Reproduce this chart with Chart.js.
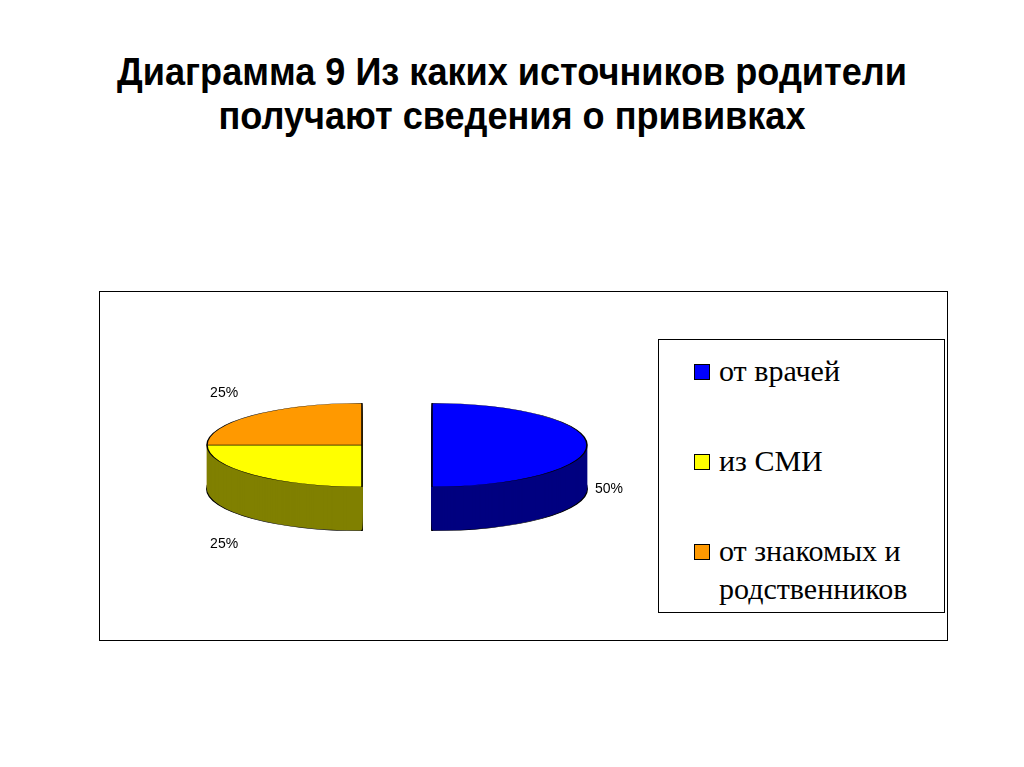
<!DOCTYPE html>
<html><head><meta charset="utf-8">
<script src="https://cdn.jsdelivr.net/npm/chart.js@4/dist/chart.umd.min.js"></script>
<style>
body{margin:0;width:1024px;height:767px;background:#fff;position:relative;overflow:hidden;font-family:"Liberation Sans",Arial,sans-serif}
#title{position:absolute;left:0;width:1024px;top:50px;text-align:center;font-weight:bold;font-size:38px;line-height:44px;color:#000;transform:scaleX(0.95)}
#box{position:absolute;left:99px;top:291px;width:847px;height:348px;border:1px solid #000}
#cw{position:absolute;left:82px;top:291px;width:560px;height:350px}
#legend{position:absolute;left:658px;top:339px;width:285px;height:272px;border:1px solid #000;font-family:"Liberation Serif","Times New Roman",serif;font-size:30px}
.li{position:absolute;left:60px;line-height:38px}
.sw{position:absolute;left:-25px;top:12px;width:14px;height:14px;border:1px solid #000}
</style></head><body>
<div id="title">Диаграмма 9 Из каких источников родители<br>получают сведения о прививках</div>
<div id="box"></div>
<div id="cw"><canvas id="c"></canvas></div>
<div id="legend"></div>
<script>
const categories = ["от врачей", "из СМИ", "от знакомых и родственников"];
const legendLines = [["от врачей"], ["из СМИ"], ["от знакомых и", "родственников"]];
const values = [50, 25, 25];
const valueLabels = ["50%", "25%", "25%"];
const colors = ["#0000FF", "#FFFF00", "#FF9900"];
const sideColors = ["#000080", "#808000", "#996600"];
const explode = [70, 0, 0];

const lg = document.getElementById('legend');
const tops = [12, 102, 192];
legendLines.forEach((l, i) => {
  const d = document.createElement('div'); d.className = 'li'; d.style.top = tops[i] + 'px';
  d.innerHTML = '<span class="sw" style="background:' + colors[i] + '"></span>' + l.join('<br>');
  lg.appendChild(d);
});

const SY = 0.27, DEPTH = 44, TOPY = 154;
const p3d = {
  id: 'p3d',
  beforeDatasetsDraw(chart) {
    const ctx = chart.ctx, meta = chart.getDatasetMeta(0);
    const cy = (chart.chartArea.top + chart.chartArea.bottom) / 2;
    meta.data.forEach((arc, i) => { if (!arc._ex) { arc.x += explode[i]; arc._ex = true; } });
    for (let d = DEPTH; d >= 1; d--) {
      ctx.save();
      ctx.translate(0, TOPY + d); ctx.scale(1, SY); ctx.translate(0, -cy);
      meta.data.forEach((arc, i) => {
        const o = arc.options, bc = o.backgroundColor, bo = o.borderColor, bw = o.borderWidth;
        o.backgroundColor = sideColors[i];
        o.borderColor = d === DEPTH ? '#000' : sideColors[i];
        o.borderWidth = d === DEPTH ? 2 : 0.5;
        arc.draw(ctx);
        o.backgroundColor = bc; o.borderColor = bo; o.borderWidth = bw;
      });
      ctx.restore();
    }
    ctx.save();
    ctx.translate(0, TOPY); ctx.scale(1, SY); ctx.translate(0, -cy);
  },
  afterDatasetsDraw(chart) {
    const ctx = chart.ctx; ctx.restore();
    const meta = chart.getDatasetMeta(0);
    ctx.save();
    ctx.font = '14px "Liberation Sans", Arial'; ctx.fillStyle = '#000';
    ctx.textAlign = 'center'; ctx.textBaseline = 'middle';
    meta.data.forEach((arc, i) => {
      const p = arc.getProps(['x', 'startAngle', 'endAngle', 'outerRadius'], true);
      const m = (p.startAngle + p.endAngle) / 2;
      const R = p.outerRadius + (i === 0 ? 22 : 40);
      const x = p.x + Math.cos(m) * R;
      const s = Math.sin(m);
      const y = TOPY + s * R * SY + (s > 0.1 ? DEPTH + 18 : (s < -0.1 ? -15 : DEPTH));
      ctx.fillText(valueLabels[i], x, y);
    });
    ctx.restore();
  }
};

new Chart(document.getElementById('c'), {
  type: 'pie',
  data: { labels: categories, datasets: [{ data: values, backgroundColor: colors,
    borderColor: '#000', borderWidth: 1.5, radius: 155 }] },
  options: { responsive: true, maintainAspectRatio: false, animation: false,
    layout: { padding: 0 },
    plugins: { legend: { display: false }, tooltip: { enabled: false } } },
  plugins: [p3d]
});
</script>
</body></html>
